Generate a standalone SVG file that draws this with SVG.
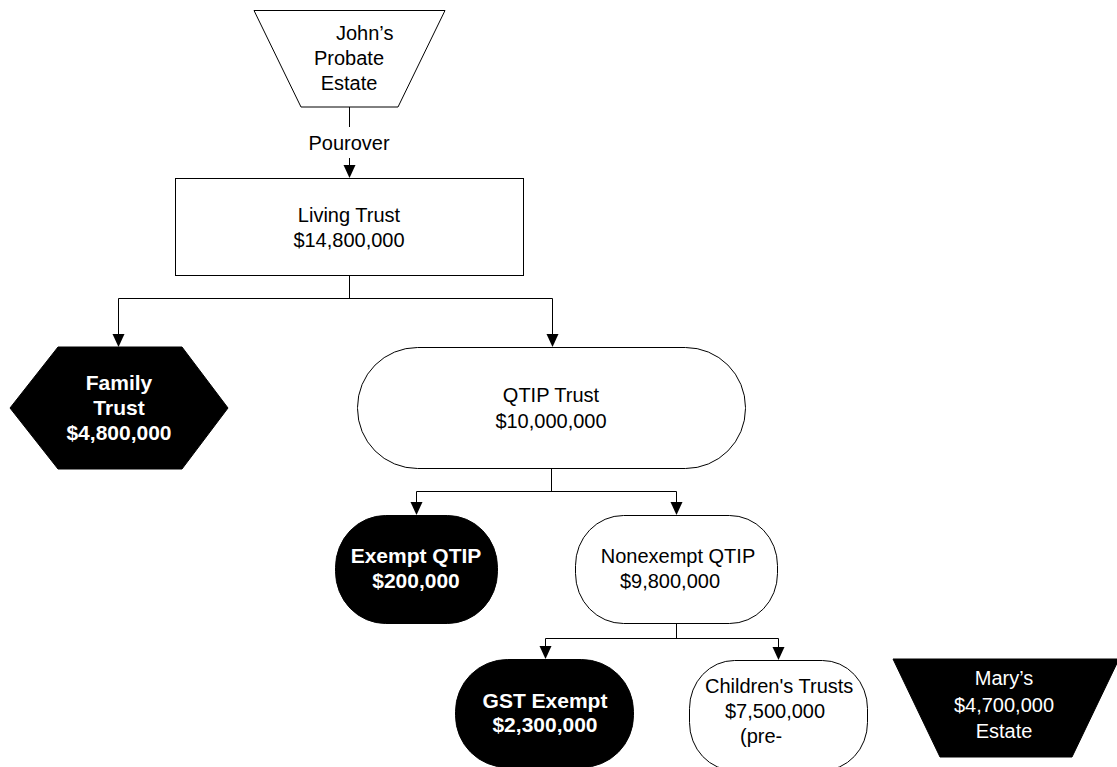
<svg xmlns="http://www.w3.org/2000/svg" width="1117" height="767" viewBox="0 0 1117 767">
  <style>
    .lbl { font-family: "Liberation Sans", Arial, sans-serif; font-size: 20px; fill: #000; }
    .lbl-w { font-family: "Liberation Sans", Arial, sans-serif; font-size: 20px; fill: #fff; }
    .lbl-b { font-family: "Liberation Sans", Arial, sans-serif; font-size: 21px; font-weight: bold; fill: #fff; }
    .mid { text-anchor: middle; }
    .shape-w { fill: #fff; stroke: #000; stroke-width: 1; }
    .shape-b { fill: #000; stroke: #000; stroke-width: 1; }
    .wire { fill: none; stroke: #000; stroke-width: 1; }
  </style>
  <defs>
    <marker id="arrow" markerUnits="userSpaceOnUse" markerWidth="12" markerHeight="13" refX="6" refY="13" orient="auto-start-reverse" viewBox="0 0 12 13">
      <path d="M0,0 L12,0 L6,13 Z" fill="#000" transform="rotate(0)"/>
    </marker>
  </defs>
  <rect width="1117" height="767" fill="#fff"/>

  <g id="connectors">
    <!-- probate estate to living trust -->
    <line class="wire" x1="349.5" y1="107" x2="349.5" y2="127"/>
    <text class="lbl mid" x="349" y="150">Pourover</text>
    <path class="wire" d="M349.5,158 V166"/>
    <path d="M343.5,165 L355.5,165 L349.5,178 Z" fill="#000"/>
    <!-- living trust split -->
    <path class="wire" d="M349.5,275 V298.5 M118.5,298.5 H552.5 M118.5,298.5 V334 M552.5,298.5 V334"/>
    <path d="M112.5,334 L124.5,334 L118.5,347 Z" fill="#000"/>
    <path d="M546.5,334 L558.5,334 L552.5,347 Z" fill="#000"/>
    <!-- QTIP split -->
    <path class="wire" d="M551.5,468 V491.5 M416.5,491.5 H676.5 M416.5,491.5 V502 M676.5,491.5 V502"/>
    <path d="M410.5,502 L422.5,502 L416.5,515 Z" fill="#000"/>
    <path d="M670.5,502 L682.5,502 L676.5,515 Z" fill="#000"/>
    <!-- nonexempt split -->
    <path class="wire" d="M676.5,623 V638.5 M545.5,638.5 H778.5 M545.5,638.5 V647 M778.5,638.5 V647"/>
    <path d="M539.5,646 L551.5,646 L545.5,659 Z" fill="#000"/>
    <path d="M772.5,647 L784.5,647 L778.5,660 Z" fill="#000"/>
  </g>

  <g id="johns-probate-estate">
    <polygon class="shape-w" points="254,10.5 445,10.5 398,107 301,107" stroke="#333"/>
    <text class="lbl" x="336" y="40">John’s</text>
    <text class="lbl mid" x="349" y="65">Probate</text>
    <text class="lbl mid" x="349" y="90">Estate</text>
  </g>

  <g id="living-trust">
    <rect class="shape-w" x="175.5" y="178.5" width="348" height="97" stroke="#333"/>
    <text class="lbl mid" x="349" y="222">Living Trust</text>
    <text class="lbl mid" x="349" y="247">$14,800,000</text>
  </g>

  <g id="family-trust">
    <polygon class="shape-b" points="58,347 182,347 228,408 182,469 58,469 10,408"/>
    <text class="lbl-b mid" x="119" y="390">Family</text>
    <text class="lbl-b mid" x="119" y="415">Trust</text>
    <text class="lbl-b mid" x="119" y="440">$4,800,000</text>
  </g>

  <g id="qtip-trust">
    <rect class="shape-w" x="357.5" y="347.5" width="388" height="121" rx="60" ry="60"/>
    <text class="lbl mid" x="551" y="402">QTIP Trust</text>
    <text class="lbl mid" x="551" y="428">$10,000,000</text>
  </g>

  <g id="exempt-qtip">
    <rect class="shape-b" x="335.5" y="515.5" width="162" height="108" rx="50" ry="52"/>
    <text class="lbl-b mid" x="416" y="563">Exempt QTIP</text>
    <text class="lbl-b mid" x="416" y="588">$200,000</text>
  </g>

  <g id="nonexempt-qtip">
    <rect class="shape-w" x="575.5" y="515.5" width="202" height="108" rx="48" ry="50"/>
    <text class="lbl mid" x="678" y="563">Nonexempt QTIP</text>
    <text class="lbl mid" x="670" y="588">$9,800,000</text>
  </g>

  <g id="gst-exempt">
    <rect class="shape-b" x="455.5" y="659.5" width="178" height="108" rx="52" ry="52"/>
    <text class="lbl-b mid" x="545" y="708">GST Exempt</text>
    <text class="lbl-b mid" x="545" y="732">$2,300,000</text>
  </g>

  <g id="childrens-trusts">
    <rect class="shape-w" x="689.5" y="660.5" width="178" height="110" rx="45" ry="48"/>
    <text class="lbl" x="705" y="693">Children's Trusts</text>
    <text class="lbl" x="725" y="718">$7,500,000</text>
    <text class="lbl" x="740" y="743">(pre-</text>
  </g>

  <g id="marys-estate">
    <polygon class="shape-b" points="893,659 1119,659 1072,757 940,757"/>
    <text class="lbl-w mid" x="1004" y="685">Mary’s</text>
    <text class="lbl-w mid" x="1004" y="712">$4,700,000</text>
    <text class="lbl-w mid" x="1004" y="738">Estate</text>
  </g>
</svg>
